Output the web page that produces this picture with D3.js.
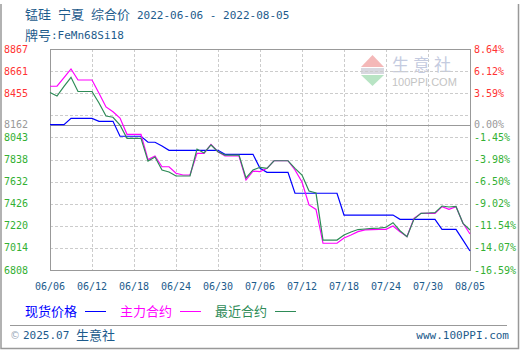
<!DOCTYPE html>
<html lang="zh">
<head>
<meta charset="UTF-8">
<title>锰硅 宁夏 综合价</title>
<script src="https://d3js.org/d3.v7.min.js"></script>
<style>
  body { margin: 0; background: #fff; }
  svg { display: block; }
  .mono { font-family: "DejaVu Sans Mono", "Liberation Mono", monospace; }
  .cjk { font-family: "Noto Sans CJK SC", sans-serif; }
</style>
</head>
<body>
<svg id="chart" width="520" height="350"></svg>
<script>
// daily values 2022-06-06 .. 2022-08-05 (61 days)
var spot = [8162, 8162, 8162, 8221, 8221, 8221, 8221, 8193, 8193, 8193,
  8054, 8054, 8054, 8054, 7998, 7998, 7963, 7923, 7923, 7923,
  7923, 7923, 7923, 7923, 7923, 7886, 7886, 7886, 7886, 7886,
  7755, 7718, 7718, 7718, 7718, 7523, 7523, 7523, 7523, 7523,
  7523, 7523, 7320, 7320, 7320, 7320, 7320, 7320, 7320, 7320,
  7280, 7280, 7280, 7280, 7280, 7280, 7187, 7187, 7187, 7087, 6985];
var mainContract = [8520, 8520, 8601, 8681, 8578, 8578, 8578, 8454, 8327, 8283,
  8224, 8072, 8072, 8072, 7837, 7870, 7770, 7770, 7709, 7693,
  7693, 7895, 7895, 7979, 7910, 7870, 7870, 7870, 7646, 7730,
  7724, 7755, 7826, 7826, 7826, 7740, 7628, 7414, 7372, 7057,
  7057, 7057, 7106, 7134, 7165, 7181, 7185, 7187, 7187, 7218,
  7165, 7120, 7290, 7336, 7336, 7336, 7398, 7373, 7398, 7243, 7143];
var nearContract = [8462, 8429, 8518, 8603, 8471, 8471, 8471, 8364, 8243, 8231,
  8159, 8035, 8035, 8035, 7823, 7861, 7740, 7721, 7684, 7684,
  7684, 7935, 7898, 7973, 7910, 7879, 7879, 7879, 7665, 7740,
  7765, 7755, 7826, 7826, 7826, 7755, 7693, 7544, 7525, 7087,
  7087, 7087, 7134, 7162, 7185, 7190, 7195, 7199, 7206, 7249,
  7174, 7118, 7283, 7336, 7339, 7342, 7404, 7395, 7400, 7243, 7181];

var xTickLabels = ["06/06", "06/12", "06/18", "06/24", "06/30", "07/06", "07/12", "07/18", "07/24", "07/30", "08/05"];
var leftTicks = [8867, 8661, 8455, 8162, 8043, 7838, 7632, 7426, 7220, 7014, 6808];
var rightTicks = ["8.64%", "6.12%", "3.59%", "0.00%", "-1.45%", "-3.98%", "-6.50%", "-9.02%", "-11.54%", "-14.07%", "-16.59%"];
var baseValue = 8162;
var series = [
  { name: "现货价格", values: spot, color: "#0000ff" },
  { name: "主力合约", values: mainContract, color: "#ff00ff" },
  { name: "最近合约", values: nearContract, color: "#2e8b57" }
];

var svg = d3.select("#chart");
var plotL = 50, plotR = 470, plotT = 49, plotB = 270;
var titleColor = "#1d5b8c";

var start = new Date(2022, 5, 6), end = new Date(2022, 7, 5);
var days = d3.timeDay.range(start, d3.timeDay.offset(end, 1));
var parseTick = function (s) { return new Date(2022, +s.slice(0, 2) - 1, +s.slice(3)); };

var x = d3.scaleTime().domain([start, end]).range([plotL, plotR]);
var y = d3.scaleLinear().domain([6808, 8867]).range([plotB, plotT]);

// outer frame (no top edge)
svg.append("path")
  .attr("d", "M1,4V348.5H518.5V4")
  .attr("fill", "none").attr("stroke", "#999").attr("stroke-width", 1.5);

// title
var t1 = svg.append("g").attr("fill", titleColor);
t1.append("text").attr("class", "cjk").attr("x", 25).attr("y", 19).attr("font-size", 13).text("锰硅");
t1.append("text").attr("class", "cjk").attr("x", 58).attr("y", 19).attr("font-size", 13).text("宁夏");
t1.append("text").attr("class", "cjk").attr("x", 91).attr("y", 19).attr("font-size", 13).text("综合价");
t1.append("text").attr("class", "mono").attr("x", 137).attr("y", 19).attr("font-size", 11).text("2022-06-06 - 2022-08-05");
t1.append("text").attr("class", "cjk").attr("x", 25).attr("y", 40).attr("font-size", 13).text("牌号");
t1.append("text").attr("class", "mono").attr("x", 51).attr("y", 39).attr("font-size", 11).text(":FeMn68Si18");

// watermark
var wm = svg.append("g");
wm.append("path").attr("d", "M372.5,55L384,67H361Z").attr("fill", "#f4b8b8");
wm.append("rect").attr("x", 361).attr("y", 68).attr("width", 23).attr("height", 6).attr("fill", "#d8d8e0");
wm.append("path").attr("d", "M361,75H384L372.5,86Z").attr("fill", "#b8e4c4");
wm.append("text").attr("class", "cjk").attr("x", 392).attr("y", 71).attr("font-size", 17)
  .attr("letter-spacing", 4).attr("fill", "#c4cbe0").text("生意社");
wm.append("text").attr("x", 392).attr("y", 86).attr("font-size", 11)
  .attr("font-family", "Liberation Sans, sans-serif").attr("fill", "#c4c4c4").text("100PPI.COM");

// grid
var grid = svg.append("g").attr("stroke", "#ccc").attr("stroke-dasharray", "3,2").attr("shape-rendering", "crispEdges");
d3.range(1, 10).forEach(function (i) {
  var v = 6808 + i * (8867 - 6808) / 10;
  grid.append("line").attr("x1", plotL).attr("x2", plotR).attr("y1", Math.round(y(v)) + 0.5).attr("y2", Math.round(y(v)) + 0.5);
});
xTickLabels.slice(1, -1).forEach(function (s) {
  var px = Math.round(x(parseTick(s))) + 0.5;
  grid.append("line").attr("x1", px).attr("x2", px).attr("y1", plotT).attr("y2", plotB);
});

// baseline + plot border
svg.append("line").attr("x1", plotL).attr("x2", plotR)
  .attr("y1", Math.round(y(baseValue)) + 0.5).attr("y2", Math.round(y(baseValue)) + 0.5)
  .attr("stroke", "#999").attr("shape-rendering", "crispEdges");
svg.append("rect").attr("x", plotL + 0.5).attr("y", plotT + 0.5).attr("width", plotR - plotL).attr("height", plotB - plotT)
  .attr("fill", "none").attr("stroke", "#999").attr("shape-rendering", "crispEdges");

// axis labels
function tickColor(v) { return v > baseValue ? "#ff3333" : (v === baseValue ? "#999" : "#33b033"); }
leftTicks.forEach(function (v, i) {
  svg.append("text").attr("class", "mono").attr("x", 4).attr("y", y(v)).attr("dy", "0.35em")
    .attr("font-size", 10).attr("fill", tickColor(v)).text(v);
  svg.append("text").attr("class", "mono").attr("x", 474).attr("y", y(v)).attr("dy", "0.35em")
    .attr("font-size", 10).attr("fill", tickColor(v)).text(rightTicks[i]);
});
xTickLabels.forEach(function (s) {
  svg.append("text").attr("class", "mono").attr("x", x(parseTick(s))).attr("y", 290)
    .attr("text-anchor", "middle").attr("font-size", 10).attr("fill", titleColor).text(s);
});

// lines
var line = d3.line().x(function (d, i) { return x(days[i]); }).y(function (d) { return y(d); });
series.forEach(function (s) {
  svg.append("path").attr("d", line(s.values)).attr("fill", "none")
    .attr("stroke", s.color).attr("stroke-width", 1.2);
});

// legend
var legX = [25, 120, 215];
series.forEach(function (s, i) {
  svg.append("text").attr("class", "cjk").attr("x", legX[i]).attr("y", 316).attr("font-size", 13)
    .attr("fill", s.color).text(s.name);
  svg.append("line").attr("x1", legX[i] + 60).attr("x2", legX[i] + 81).attr("y1", 311.5).attr("y2", 311.5)
    .attr("stroke", s.color).attr("stroke-width", 1);
});

// footer
svg.append("line").attr("x1", 10).attr("x2", 507).attr("y1", 325.5).attr("y2", 325.5)
  .attr("stroke", "#999").attr("shape-rendering", "crispEdges");
svg.append("text").attr("x", 10).attr("y", 339).attr("font-size", 10).attr("font-family", "DejaVu Sans, sans-serif")
  .attr("fill", "#9aa8b8").text("©");
svg.append("text").attr("class", "mono").attr("x", 23).attr("y", 339).attr("font-size", 11)
  .attr("fill", titleColor).text("2025.07");
svg.append("text").attr("class", "cjk").attr("x", 76).attr("y", 340).attr("font-size", 13)
  .attr("fill", titleColor).text("生意社");
svg.append("text").attr("class", "mono").attr("x", 509).attr("y", 339).attr("text-anchor", "end")
  .attr("font-size", 11).attr("fill", titleColor).text("www.100PPI.com");
</script>
</body>
</html>
